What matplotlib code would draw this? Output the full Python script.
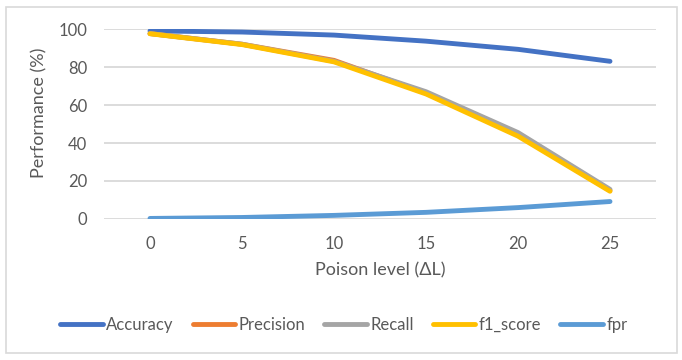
import matplotlib
matplotlib.use("Agg")
import matplotlib.pyplot as plt
from matplotlib.patches import Rectangle

# data
poison_levels = ["0", "5", "10", "15", "20", "25"]
accuracy = [99.0, 98.4, 96.8, 93.6, 89.3, 83.0]
precision = [97.6, 92.0, 83.5, 66.3, 44.3, 15.0]
recall = [97.6, 92.0, 83.0, 67.0, 45.5, 15.6]
f1_score = [97.5, 91.8, 82.7, 65.8, 43.6, 14.6]
fpr = [0.3, 0.8, 1.9, 3.5, 6.0, 9.2]

series = [
    ("Accuracy", accuracy, "#4472C4"),
    ("Precision", precision, "#ED7D31"),
    ("Recall", recall, "#A5A5A5"),
    ("f1_score", f1_score, "#FFC000"),
    ("fpr", fpr, "#5B9BD5"),
]

plt.rcParams["font.family"] = ["Lato", "DejaVu Sans"]
txt = "#595959"

fig = plt.figure(figsize=(6.82, 3.6), dpi=100)
ax = fig.add_axes([104 / 682, 1 - 219 / 360, 552 / 682, 190 / 360])

xs = list(range(len(poison_levels)))
for name, vals, col in series:
    ax.plot(xs, vals, color=col, lw=3.5, label=name, solid_capstyle="round",
            solid_joinstyle="round")

ax.set_xlim(-0.5, len(poison_levels) - 0.5)
ax.set_ylim(0, 100)
ax.set_yticks(range(0, 101, 20))
ax.set_xticks(xs)
ax.set_xticklabels(poison_levels)
ax.grid(axis="y", color="#D9D9D9", lw=1.3)
ax.set_axisbelow(True)
for s in ax.spines.values():
    s.set_visible(False)
ax.tick_params(length=0, colors=txt, labelsize=12)
ax.tick_params(axis="y", pad=12)
ax.tick_params(axis="x", pad=12)
ax.set_xlabel("Poison level (ΔL)", color=txt, fontsize=13, labelpad=8)
ax.set_ylabel("Performance (%)", color=txt, fontsize=13, labelpad=5)
ax.yaxis.set_label_coords(-0.103, 0.56)

leg = fig.legend(loc="center", bbox_to_anchor=(0.504, 0.097), ncol=5, frameon=False,
                 handlelength=2.55, handletextpad=0.2, columnspacing=1.15,
                 fontsize=12)
for t in leg.get_texts():
    t.set_color(txt)

fig.patches.append(Rectangle((6 / 682, 7 / 360), 671 / 682, 346 / 360,
                             transform=fig.transFigure, fill=False,
                             edgecolor="#D9D9D9", lw=1.2))

fig.savefig("out.png", dpi=100)
